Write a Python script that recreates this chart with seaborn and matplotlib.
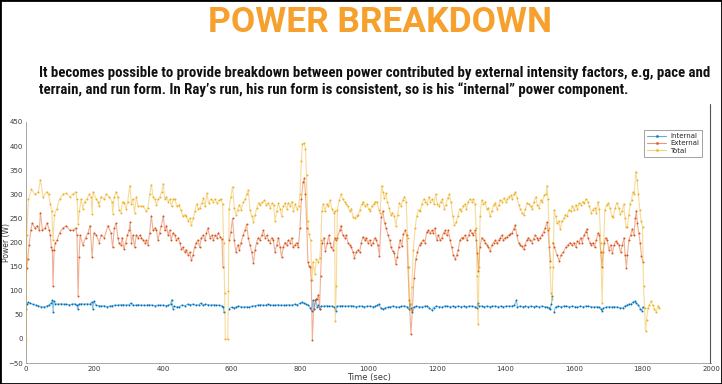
import matplotlib
matplotlib.use('Agg')
import matplotlib.pyplot as plt
from matplotlib import font_manager as fm
from matplotlib.lines import Line2D
from matplotlib.patches import Rectangle
import seaborn as sns
import pandas as pd

# readings taken off the chart: (time in sec, power in W); None = gap in the record
internal = [
    (0, 63), (3, 72), (6, 76), (12, 74), (20, 72), (28, 70), (36, 69), (44, 67), (52, 66), (60, 68),
    (68, 71), (74, 74), (77, 80), (79, 55), (81, 78), (86, 73), (94, 72), (102, 73), (110, 72), (118, 72),
    (126, 71), (134, 72), (142, 73), (148, 70), (151, 62), (154, 72), (162, 73), (170, 72), (178, 73), (186, 72),
    (192, 76), (195, 62), (198, 78), (204, 70), (212, 69), (220, 68), (228, 69), (236, 67), (244, 68), (252, 69),
    (260, 70), (268, 70), (276, 71), (284, 71), (292, 70), (300, 71), (306, 74), (312, 70), (320, 70), (328, 71),
    (336, 70), (344, 70), (352, 70), (360, 71), (368, 70), (376, 69), (384, 70), (392, 70), (400, 70), (408, 69),
    (416, 70), (422, 72), (425, 81), (428, 63), (432, 68), (440, 66), (448, 67), (456, 70), (464, 69), (472, 72),
    (480, 71), (488, 72), (496, 70), (504, 71), (510, 74), (516, 70), (524, 72), (532, 71), (540, 70), (548, 71),
    (556, 70), (564, 70), (572, 68), (576, 66), (578, 55), None,
    (594, 63), (600, 66), (606, 64), (612, 66), (620, 68), (628, 67), (636, 66), (644, 67), (652, 66), (660, 68),
    (668, 69), (676, 70), (684, 71), (692, 70), (700, 70), (706, 72), (712, 71), (720, 70), (728, 70), (736, 71),
    (744, 70), (752, 70), (760, 70), (768, 71), (776, 70), (784, 72), (792, 71), (800, 74), (806, 76), (812, 74),
    (818, 72), (824, 70), (830, 65), (834, 58), (838, 80), (842, 62), (846, 82), (850, 66), (854, 70), (858, 62),
    (862, 68), (870, 68), (878, 69), (886, 68), (894, 68), (900, 66), (904, 58), (908, 68), (916, 68), (924, 69),
    (932, 68), (940, 68), (948, 69), (956, 68), (964, 67), (972, 68), (980, 68), (988, 67), (996, 68), (1004, 68),
    (1012, 67), (1020, 68), (1026, 70), (1030, 72), (1036, 64), (1042, 62), (1048, 64), (1056, 66), (1064, 67),
    (1072, 68), (1080, 67), (1088, 66), (1096, 68), (1104, 68), (1112, 67), (1117, 62), (1121, 72), (1124, 64),
    (1128, 56), (1132, 66), (1140, 68), (1148, 67), (1156, 66), (1164, 68), (1172, 68), (1178, 64), (1184, 60),
    (1190, 65), (1198, 68), (1206, 67), (1214, 66), (1222, 68), (1230, 68), (1238, 67), (1246, 68), (1254, 67),
    (1262, 68), (1270, 67), (1278, 68), (1286, 67), (1294, 68), (1302, 68), (1310, 67), (1316, 64), (1319, 74),
    (1322, 68), (1330, 68), (1338, 67), (1346, 68), (1354, 67), (1362, 68), (1370, 68), (1378, 67), (1386, 68),
    (1394, 67), (1402, 68), (1410, 68), (1418, 68), (1426, 70), (1432, 80), (1435, 66), (1442, 68), (1450, 67),
    (1458, 68), (1466, 67), (1474, 68), (1482, 67), (1490, 68), (1498, 67), (1506, 68), (1514, 67), (1522, 66),
    (1528, 64), (1530, 62), (1534, 72), (1537, 88), None,
    (1542, 56), (1546, 66), (1554, 68), (1562, 67), (1570, 68), (1578, 68), (1586, 67), (1594, 68), (1602, 67),
    (1610, 66), (1618, 68), (1626, 67), (1634, 68), (1642, 68), (1650, 67), (1658, 66), (1666, 67), (1672, 66),
    (1678, 63), (1682, 58), (1686, 64), (1694, 66), (1702, 67), (1710, 66), (1718, 67), (1726, 66), (1734, 65),
    (1742, 64), (1748, 68), (1754, 70), (1760, 72), (1766, 72), (1772, 76), (1777, 78), (1782, 74), (1788, 70),
    (1794, 62), (1798, 58), (1801, 66),
]

external = [
    (2, 148), (5, 165), (9, 195), (14, 225), (18, 240), (26, 230), (33, 235), (39, 225), (42, 262), (48, 225),
    (55, 230), (62, 240), (68, 225), (71, 215), (74, 190), (77, 185), (79, 110), (82, 185), (86, 200), (91, 205),
    (98, 220), (108, 230), (118, 235), (128, 225), (137, 225), (145, 230), (149, 215), (152, 90), (155, 170),
    (158, 215), (166, 195), (174, 210), (181, 220), (187, 235), (193, 170), (198, 220), (205, 215), (214, 200),
    (219, 215), (229, 210), (239, 235), (248, 220), (253, 190), (258, 230), (263, 240), (268, 210), (272, 198),
    (277, 195), (281, 210), (286, 186), (291, 200), (296, 215), (301, 225), (304, 242), (308, 200), (312, 215),
    (317, 190), (322, 215), (327, 210), (332, 215), (337, 210), (342, 205), (347, 200), (351, 205), (356, 195),
    (361, 220), (366, 255), (371, 225), (376, 230), (381, 225), (385, 205), (390, 220), (395, 235), (401, 255),
    (405, 225), (410, 235), (415, 215), (419, 225), (424, 205), (429, 220), (434, 215), (439, 205), (444, 210),
    (449, 200), (454, 186), (458, 190), (463, 180), (468, 185), (473, 175), (478, 180), (483, 163), (488, 175),
    (492, 190), (497, 200), (502, 205), (507, 190), (512, 210), (517, 215), (522, 205), (527, 220), (531, 230),
    (537, 210), (542, 215), (547, 205), (552, 215), (557, 210), (562, 220), (567, 212), (572, 208), (575, 150), None,
    (594, 205), (598, 222), (603, 250), (608, 205), (613, 180), (618, 195), (623, 185), (628, 200), (634, 215),
    (639, 225), (644, 238), (649, 210), (654, 195), (659, 180), (664, 158), (669, 185), (673, 200), (678, 210),
    (683, 205), (688, 215), (693, 225), (698, 210), (703, 215), (708, 205), (712, 200), (717, 210), (722, 205),
    (727, 180), (732, 195), (737, 210), (742, 190), (746, 170), (751, 190), (756, 200), (761, 195), (766, 205),
    (771, 200), (776, 210), (780, 190), (785, 195), (790, 200), (795, 190), (800, 230), (804, 290), (809, 325),
    (813, 333), (816, 300), (820, 230), (823, 160), (826, 152), (830, 150), (833, 122), (836, -3), (840, 62),
    (845, 80), (849, 82), (854, 92), (857, 62), (860, 130), (864, 198), (870, 210), (874, 182), (880, 200),
    (884, 215), (887, 200), (891, 190), (896, 185), (901, 210), (904, 205), (909, 210), (916, 225), (920, 235),
    (925, 215), (930, 210), (935, 215), (940, 200), (945, 195), (950, 190), (955, 180), (959, 168), (964, 180),
    (969, 185), (974, 180), (979, 200), (984, 212), (989, 205), (993, 210), (998, 200), (1003, 205), (1008, 195),
    (1013, 200), (1018, 210), (1023, 205), (1027, 195), (1032, 172), (1037, 252), (1042, 265), (1047, 240),
    (1052, 230), (1057, 215), (1062, 205), (1066, 190), (1071, 182), (1075, 178), (1080, 155), (1084, 170),
    (1088, 190), (1092, 205), (1097, 192), (1102, 218), (1107, 225), (1112, 215), (1115, 150), (1119, 80),
    (1124, 10), (1128, 60), (1133, 126), (1138, 165), (1143, 180), (1149, 195), (1154, 200), (1160, 205),
    (1165, 200), (1170, 222), (1175, 225), (1180, 220), (1185, 225), (1189, 220), (1194, 230), (1199, 205),
    (1204, 215), (1209, 205), (1214, 210), (1219, 220), (1224, 225), (1228, 215), (1233, 225), (1238, 205),
    (1243, 190), (1248, 174), (1253, 165), (1258, 175), (1262, 185), (1267, 205), (1272, 210), (1277, 210),
    (1282, 215), (1287, 205), (1292, 215), (1297, 225), (1301, 220), (1306, 215), (1311, 225), (1315, 205),
    (1318, 178), (1321, 140), (1325, 190), (1331, 210), (1336, 205), (1341, 200), (1346, 195), (1350, 190),
    (1355, 182), (1360, 195), (1365, 200), (1370, 205), (1375, 198), (1380, 205), (1385, 210), (1389, 215),
    (1394, 205), (1399, 210), (1404, 212), (1409, 215), (1414, 218), (1419, 220), (1424, 228), (1428, 236),
    (1433, 215), (1438, 200), (1443, 195), (1448, 192), (1453, 186), (1457, 195), (1462, 205), (1467, 210),
    (1472, 205), (1477, 200), (1482, 208), (1487, 215), (1492, 210), (1496, 205), (1501, 210), (1506, 215),
    (1511, 222), (1516, 230), (1521, 242), (1524, 225), (1528, 190), (1531, 162), None,
    (1538, 200), (1543, 190), (1550, 175), (1557, 162), (1563, 175), (1569, 180), (1576, 190), (1582, 195),
    (1589, 200), (1594, 195), (1600, 200), (1605, 190), (1610, 203), (1615, 200), (1619, 210), (1624, 200),
    (1629, 215), (1634, 222), (1637, 228), (1641, 210), (1646, 200), (1651, 195), (1655, 200), (1660, 190),
    (1665, 205), (1670, 220), (1674, 215), (1678, 180), (1682, 150), (1685, 180), (1689, 200), (1692, 210),
    (1697, 205), (1702, 185), (1707, 195), (1712, 178), (1717, 195), (1722, 203), (1726, 200), (1731, 195),
    (1736, 180), (1741, 195), (1746, 210), (1749, 175), (1753, 148), (1756, 175), (1760, 205), (1765, 215),
    (1770, 228), (1775, 215), (1779, 250), (1782, 266), (1785, 240), (1789, 220), (1793, 200), (1797, 172),
    (1801, 160),
]

total = [
    (0, 0), (2, 215), (7, 290), (16, 310), (26, 300), (36, 305), (42, 330), (50, 295), (60, 305), (66, 300),
    (71, 280), (75, 265), (79, 205), (83, 258), (90, 270), (98, 290), (108, 300), (118, 302), (128, 295),
    (137, 300), (145, 305), (149, 290), (152, 238), (156, 265), (161, 290), (166, 270), (171, 285), (178, 290),
    (185, 300), (190, 295), (193, 260), (196, 305), (205, 290), (210, 285), (214, 275), (219, 295), (229, 290),
    (234, 300), (243, 295), (251, 285), (253, 260), (258, 295), (263, 305), (268, 295), (272, 268), (277, 262),
    (282, 285), (287, 282), (292, 270), (297, 285), (303, 318), (308, 280), (312, 290), (317, 262), (322, 295),
    (327, 275), (335, 275), (342, 275), (351, 265), (356, 272), (361, 300), (366, 320), (371, 295), (376, 290),
    (381, 278), (386, 290), (391, 295), (396, 305), (401, 322), (405, 290), (410, 295), (415, 285), (420, 290),
    (425, 275), (430, 290), (435, 290), (440, 275), (446, 278), (452, 268), (458, 255), (463, 258), (468, 255),
    (473, 245), (478, 250), (483, 237), (488, 250), (493, 265), (498, 280), (503, 270), (508, 272), (513, 282),
    (518, 292), (523, 275), (528, 302), (533, 282), (540, 290), (546, 285), (552, 290), (558, 282), (564, 288),
    (569, 290), (574, 280), (577, 200), (580, 95), (582, 0), (589, 0), (591, 100), (593, 270), (598, 295),
    (603, 316), (608, 272), (613, 258), (618, 268), (623, 278), (628, 268), (634, 283), (640, 290), (644, 300),
    (649, 308), (654, 268), (659, 255), (664, 243), (669, 258), (674, 272), (679, 282), (684, 278), (690, 283),
    (696, 288), (702, 278), (708, 282), (713, 272), (718, 282), (723, 278), (727, 245), (732, 265), (737, 282),
    (742, 270), (746, 255), (751, 275), (756, 282), (761, 270), (766, 282), (771, 276), (776, 285), (781, 265),
    (786, 280), (791, 270), (796, 276), (800, 300), (804, 370), (807, 405), (812, 406), (816, 395), (819, 340),
    (822, 245), (826, 218), (831, 205), (835, 122), (838, 160), (843, 135), (848, 165), (853, 160), (858, 168),
    (861, 205), (864, 265), (868, 280), (873, 265), (878, 280), (883, 275), (888, 288), (893, 270), (898, 262),
    (901, 265), (903, 38), (906, 110), (909, 268), (915, 288), (920, 300), (925, 290), (930, 285), (935, 280),
    (940, 275), (945, 265), (950, 270), (955, 252), (960, 250), (965, 256), (970, 258), (975, 268), (980, 280),
    (985, 285), (990, 275), (995, 280), (1000, 270), (1005, 265), (1010, 275), (1015, 280), (1020, 285),
    (1025, 284), (1030, 268), (1034, 262), (1038, 318), (1042, 305), (1046, 292), (1050, 302), (1055, 285),
    (1060, 272), (1065, 258), (1070, 262), (1075, 255), (1080, 235), (1085, 258), (1090, 282), (1095, 275),
    (1100, 288), (1105, 295), (1110, 285), (1114, 210), (1117, 150), (1120, 75), (1123, 60), (1126, 108),
    (1131, 185), (1136, 230), (1141, 256), (1146, 268), (1151, 265), (1156, 280), (1161, 290), (1166, 285),
    (1171, 280), (1176, 295), (1181, 285), (1186, 290), (1191, 280), (1196, 300), (1201, 280), (1206, 275),
    (1211, 285), (1216, 290), (1221, 270), (1226, 278), (1231, 292), (1236, 300), (1241, 283), (1246, 255),
    (1251, 236), (1256, 242), (1261, 255), (1266, 270), (1271, 265), (1276, 275), (1281, 280), (1286, 270),
    (1291, 285), (1296, 290), (1301, 285), (1306, 290), (1311, 280), (1314, 230), (1317, 130), (1320, 30),
    (1323, 150), (1326, 255), (1330, 288), (1335, 280), (1340, 285), (1345, 270), (1350, 272), (1355, 254),
    (1360, 265), (1365, 278), (1370, 282), (1375, 270), (1380, 278), (1385, 288), (1390, 285), (1395, 292),
    (1400, 285), (1405, 290), (1410, 295), (1415, 298), (1420, 290), (1425, 300), (1429, 305), (1434, 292),
    (1439, 278), (1443, 270), (1448, 262), (1453, 257), (1458, 270), (1463, 282), (1468, 280), (1473, 275),
    (1478, 270), (1483, 285), (1488, 295), (1493, 278), (1498, 272), (1503, 288), (1508, 285), (1513, 298),
    (1518, 300), (1521, 318), (1524, 290), (1527, 230), (1530, 150), (1533, 95), (1536, 82), (1539, 150),
    (1542, 268), (1546, 255), (1550, 240), (1555, 245), (1560, 228), (1565, 245), (1570, 250), (1575, 258),
    (1580, 255), (1585, 268), (1590, 265), (1595, 275), (1600, 268), (1605, 278), (1610, 270), (1615, 282),
    (1620, 278), (1625, 285), (1630, 282), (1635, 290), (1640, 285), (1645, 275), (1650, 262), (1655, 268),
    (1660, 272), (1665, 262), (1670, 285), (1674, 270), (1678, 200), (1682, 75), (1686, 180), (1690, 268),
    (1695, 278), (1700, 282), (1705, 272), (1710, 255), (1715, 252), (1720, 272), (1725, 282), (1730, 272),
    (1735, 260), (1740, 265), (1745, 280), (1749, 250), (1752, 232), (1756, 232), (1760, 258), (1764, 280),
    (1768, 288), (1772, 305), (1776, 300), (1780, 347), (1784, 330), (1788, 300), (1792, 268), (1796, 245),
    (1800, 232), (1803, 110), (1806, 65), (1809, 16), (1812, 40), (1816, 65), (1820, 70), (1825, 78),
    (1830, 70), (1835, 62), (1840, 55), (1845, 68), (1849, 65),
]

series_names = ['Internal', 'External', 'Total']
series_colors = ['#0072BD', '#D95319', '#EDB120']
x_ticks = [0, 200, 400, 600, 800, 1000, 1200, 1400, 1600, 1800, 2000]
y_ticks = [-50, 0, 50, 100, 150, 200, 250, 300, 350, 400, 450]

title_text = 'POWER BREAKDOWN'
sub_line1 = ('It becomes possible to provide breakdown between power contributed by '
             'external intensity factors, e.g, pace and')
sub_line2 = ('terrain, and run form. In Ray\u2019s run, his run form is consistent, '
             'so is his \u201cinternal\u201d power component.')


def to_frame(pairs, name):
    """Turn the (time, power) readings into rows, one segment id per unbroken run."""
    rows = []
    seg = 0
    for p in pairs:
        if p is None:
            seg += 1
            continue
        rows.append((p[0], p[1], name, f'{name}-{seg}'))
    return pd.DataFrame(rows, columns=['time', 'power', 'series', 'seg'])


df = pd.concat([to_frame(internal, 'Internal'),
                to_frame(external, 'External'),
                to_frame(total, 'Total')], ignore_index=True)

sns.set_theme(style='white')
names = {f.name for f in fm.fontManager.ttflist}
cond_family = 'DejaVu Sans'
for cand in ['Roboto Condensed', 'Liberation Sans Narrow', 'Open Sans Condensed']:
    if cand in names:
        cond_family = cand
        break
title_family = 'Roboto' if 'Roboto' in names else 'DejaVu Sans'
plt.rcParams['font.family'] = ['DejaVu Sans']

fig = plt.figure(figsize=(7.22, 3.84), dpi=100)
ax = fig.add_axes([26 / 722, 21 / 384, 685 / 722, 241 / 384])

for i, (name, color) in enumerate(zip(series_names, series_colors)):
    d = df[df['series'] == name]
    sns.lineplot(data=d, x='time', y='power', units='seg', estimator=None, sort=False,
                 color=color, lw=0.8, alpha=0.45, ax=ax, legend=False, zorder=2 + i)
    sns.scatterplot(data=d, x='time', y='power', color=color, s=2, linewidth=0,
                    ax=ax, legend=False, zorder=2 + i)

ax.set_xlim(0, 2000)
ax.set_ylim(-50, 450)
ax.set_xticks(x_ticks)
ax.set_yticks(y_ticks)
ax.tick_params(direction='in', length=3.5, width=0.5, color='#999999',
               labelsize=5, labelcolor='#3a3a3a', pad=2.2)
ax.set_xlabel('Time (sec)', fontsize=6, color='#3a3a3a', labelpad=1)
ax.set_ylabel('Power (W)', fontsize=5.5, color='#3a3a3a')
ax.yaxis.set_label_coords(-15 / 685, 0.5)
for side in ['top', 'right']:
    ax.spines[side].set_visible(False)
for side in ['left', 'bottom']:
    ax.spines[side].set_color('#999999')
    ax.spines[side].set_linewidth(0.6)

handles = [Line2D([0], [0], color=c, lw=0.8, alpha=0.6, marker='.', markersize=2.5,
                  markerfacecolor=c, markeredgecolor=c) for c in series_colors]
leg = ax.legend(handles, series_names, loc='upper right', bbox_to_anchor=(0.992, 0.98),
                fontsize=5, frameon=True, fancybox=False, handlelength=2.8,
                borderpad=0.45, labelspacing=0.15, handletextpad=0.5)
leg.get_frame().set_edgecolor('#777777')
leg.get_frame().set_linewidth(0.6)

fig.text(0.526, 0.942, title_text, color='#F6A02E', fontsize=25.5, fontweight='bold',
         family=title_family, ha='center', va='center')
fig.text(39 / 722, 1 - 73 / 384, sub_line1, color='#111111', fontsize=10.7, fontweight='bold',
         family=cond_family, fontstretch='condensed', ha='left', va='center')
fig.text(39 / 722, 1 - 90 / 384, sub_line2, color='#111111', fontsize=10.7, fontweight='bold',
         family=cond_family, fontstretch='condensed', ha='left', va='center')

# frame of the pasted chart and of the whole slide
fig.add_artist(Line2D([710 / 722, 710 / 722], [1 - 104 / 384, 21 / 384],
                      transform=fig.transFigure, color='#555555', lw=0.8))
fig.add_artist(Rectangle((0, 0), 1, 1, transform=fig.transFigure, fill=False,
                         edgecolor='black', lw=2))

fig.savefig('out.png', dpi=100)
